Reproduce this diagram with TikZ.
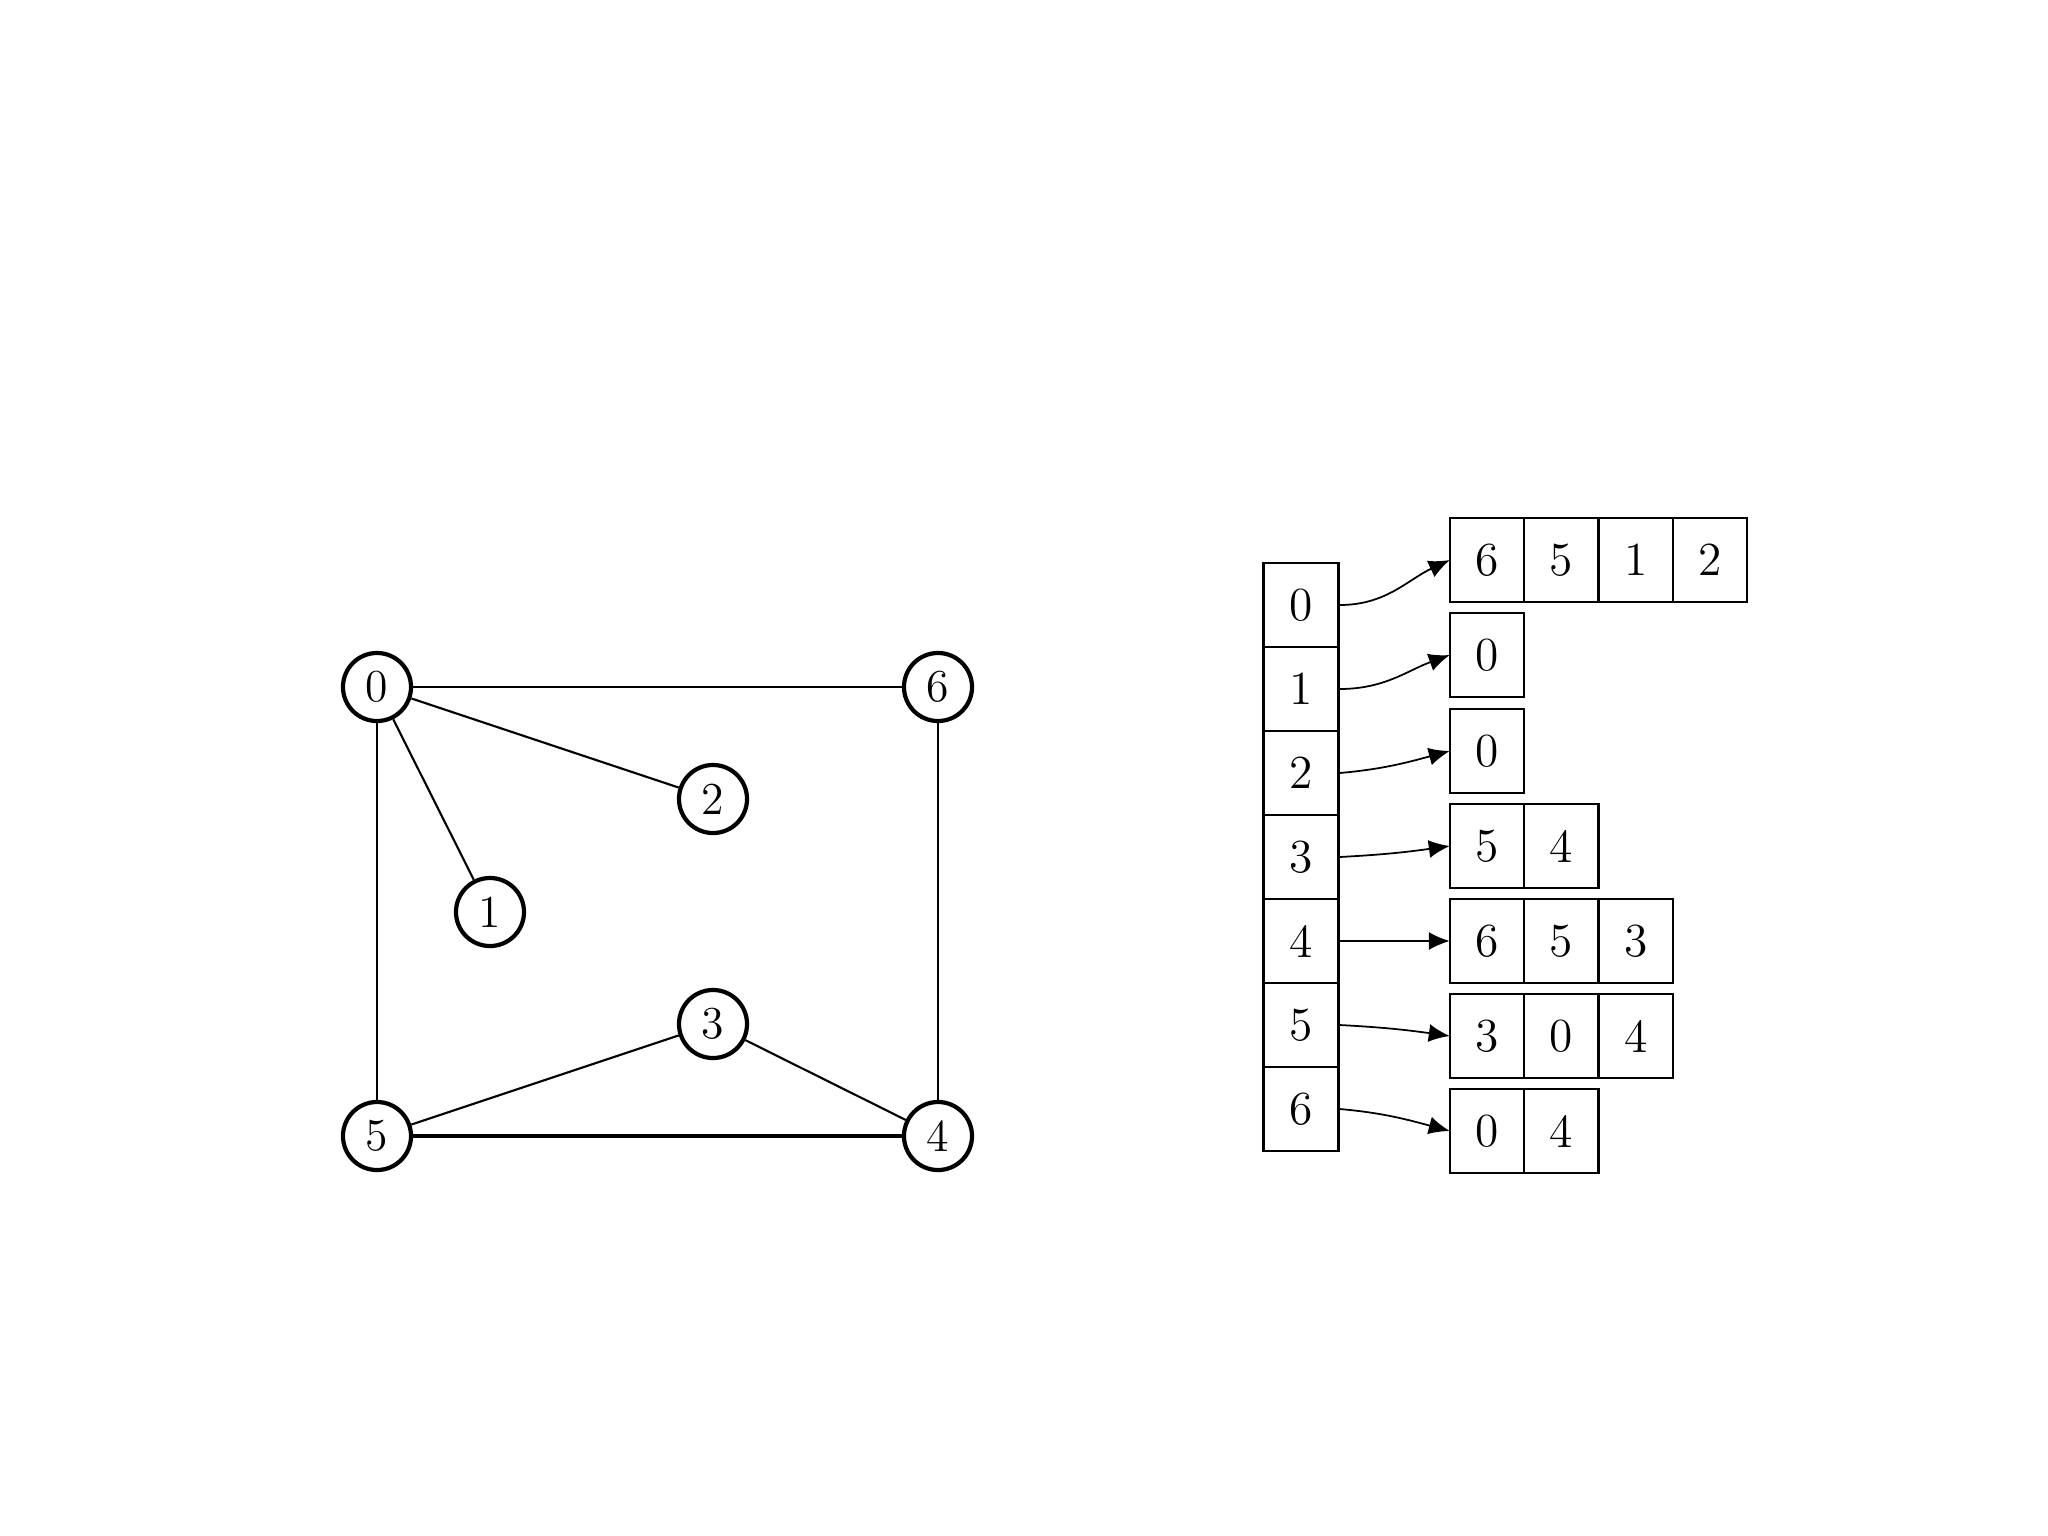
\documentclass[tikz,border=0pt]{standalone}
\usetikzlibrary{arrows.meta}
\begin{document}
\begin{tikzpicture}[x=0.01cm,y=-0.01cm,
  vtx/.style={circle,draw,line width=1.2pt,minimum size=0.68cm,inner sep=0pt,font=\fontsize{13}{15}\selectfont},
  edge/.style={line width=0.6pt},
  cell/.style={rectangle,draw,line width=0.6pt,minimum width=0.75cm,minimum height=0.84cm,inner sep=0pt,font=\fontsize{13.5}{15}\selectfont},
  lcell/.style={cell,minimum width=0.743cm,outer sep=0pt},
  ptr/.style={line width=0.5pt,-{Latex[length=2.1mm,width=1.8mm]}}]
\useasboundingbox (0,0) rectangle (2048,1536);
% graph
\node[vtx] (v0) at (377,687) {0};
\node[vtx] (v6) at (938,687) {6};
\node[vtx] (v2) at (713,799) {2};
\node[vtx] (v1) at (490,912) {1};
\node[vtx] (v3) at (713,1024) {3};
\node[vtx] (v5) at (377,1136) {5};
\node[vtx] (v4) at (938,1136) {4};
\draw[edge] (v0) -- (v6);
\draw[edge] (v0) -- (v2);
\draw[edge] (v0) -- (v1);
\draw[edge] (v0) -- (v5);
\draw[edge] (v6) -- (v4);
\draw[edge] (v3) -- (v5);
\draw[edge] (v3) -- (v4);
\draw[line width=1pt] (v5) -- (v4);
% array
\foreach \i in {0,...,6} {
  \node[cell] (a\i) at (1301,605+84*\i) {\i};
}
% lists
\node[lcell] (l0a) at (1487,560) {6};
\node[lcell,anchor=west] (l0b) at (l0a.east) {5};
\node[lcell,anchor=west] (l0c) at (l0b.east) {1};
\node[lcell,anchor=west] (l0d) at (l0c.east) {2};
\node[lcell] (l1a) at (1487,655) {0};
\node[lcell] (l2a) at (1487,751) {0};
\node[lcell] (l3a) at (1487,846) {5};
\node[lcell,anchor=west] (l3b) at (l3a.east) {4};
\node[lcell] (l4a) at (1487,941) {6};
\node[lcell,anchor=west] (l4b) at (l4a.east) {5};
\node[lcell,anchor=west] (l4c) at (l4b.east) {3};
\node[lcell] (l5a) at (1487,1036) {3};
\node[lcell,anchor=west] (l5b) at (l5a.east) {0};
\node[lcell,anchor=west] (l5c) at (l5b.east) {4};
\node[lcell] (l6a) at (1487,1131) {0};
\node[lcell,anchor=west] (l6b) at (l6a.east) {4};
% pointers
\draw[ptr] (a0.east) to[out=0,in=205] (l0a.west);
\draw[ptr] (a1.east) to[out=0,in=200] (l1a.west);
\draw[ptr] (a2.east) to[out=5,in=195] (l2a.west);
\draw[ptr] (a3.east) to[out=3,in=188] (l3a.west);
\draw[ptr] (a4.east) -- (l4a.west);
\draw[ptr] (a5.east) to[out=-3,in=172] (l5a.west);
\draw[ptr] (a6.east) to[out=-5,in=165] (l6a.west);
\end{tikzpicture}
\end{document}
